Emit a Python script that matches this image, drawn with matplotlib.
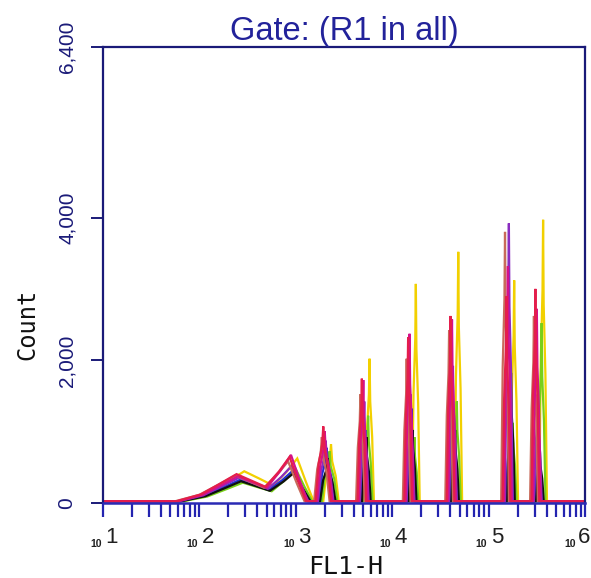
import matplotlib.pyplot as plt
import numpy as np

# bead populations: centre of each peak on the FL1-H axis (log10 units)
peak_log = [2.42, 2.97, 3.32, 3.72, 4.20, 4.64, 5.22, 5.52]

# peak counts of each overlaid sample, one value per bead population
counts_yellow = [420, 600, 800, 2000, 3050, 3500, 3100, 3950]
counts_green = [260, 450, 700, 1200, 900, 1400, 1100, 2500]
counts_blue = [300, 430, 750, 1000, 1300, 1200, 1050, 800]
counts_black = [280, 400, 600, 900, 1000, 1000, 1800, 700]
counts_purple = [330, 500, 850, 1400, 1500, 1900, 3900, 1500]
counts_brown = [360, 560, 900, 1500, 2000, 2400, 3780, 2600]
counts_magenta = [350, 650, 980, 1700, 2350, 2550, 3300, 2700]
counts_red = [380, 620, 1050, 1720, 2300, 2600, 2880, 2980]

# small channel offset of each sample relative to the peak centres
shift_yellow = 0.045
shift_green = 0.03
shift_blue = 0.0
shift_black = 0.012
shift_purple = -0.01
shift_brown = -0.05
shift_magenta = -0.02
shift_red = -0.035

baseline = 25

# outline of the two broad dim peaks
low_knots = [1.0, 1.80, 2.05, 2.25, 2.42, 2.58, 2.72, 2.86, 2.97, 3.06, 3.14]
hump1_shape = [0, 0, 0.25, 0.65, 1.0, 0.75, 0.45, 0.2, 0, 0, 0]
hump2_shape = [0, 0, 0, 0, 0, 0, 0.05, 0.55, 1.0, 0.45, 0.0]

# outline of the narrow bright peaks
spike_offsets = [-1.0, -0.6, -0.15, 0.0, 0.15, 0.6, 1.0]
spike_shape = [0.0, 0.5, 0.75, 1.0, 0.7, 0.45, 0.0]
spike_width = [0.08, 0.045, 0.04, 0.04, 0.04, 0.04]

y_ticks = [0, 2000, 4000, 6400]
y_ticklabels = ["0", "2,000", "4,000", "6,400"]
decades = [1, 2, 3, 4, 5, 6]


def trace(counts, shift):
    xs = [low_knots[0]]
    ys = [baseline]
    for k, f1, f2 in zip(low_knots[1:], hump1_shape[1:], hump2_shape[1:]):
        xs.append(k + shift)
        ys.append(baseline + f1 * counts[0] + f2 * counts[1])
    for c, h, w in zip(peak_log[2:], counts[2:], spike_width):
        for o, f in zip(spike_offsets, spike_shape):
            xs.append(c + shift + o * w)
            ys.append(baseline + f * h)
    xs.append(6.0)
    ys.append(baseline)
    return 10 ** np.array(xs), np.array(ys)


navy = "#1a1a78"
fig = plt.figure(figsize=(5.91, 5.78), dpi=100)
ax = fig.add_axes([0.1743, 0.1298, 0.8156, 0.7889])

samples = [
    (counts_yellow, shift_yellow, "#f2d000"),
    (counts_green, shift_green, "#78d018"),
    (counts_blue, shift_blue, "#2030d0"),
    (counts_black, shift_black, "#101010"),
    (counts_purple, shift_purple, "#8a2cc0"),
    (counts_brown, shift_brown, "#c86a5a"),
    (counts_magenta, shift_magenta, "#d4108c"),
    (counts_red, shift_red, "#e41e4c"),
]
for counts, shift, col in samples:
    x, y = trace(counts, shift)
    ax.plot(x, y, color=col, lw=1.6, solid_joinstyle="miter")

ax.set_xscale("log")
ax.set_xlim(10, 1e6)
ax.set_ylim(0, 6400)

for side in ["left", "right", "top"]:
    ax.spines[side].set_color(navy)
    ax.spines[side].set_linewidth(1.6)
ax.spines["bottom"].set_color("#2a2ab4")
ax.spines["bottom"].set_linewidth(1.8)

ax.set_xticks([10.0 ** d for d in decades])
ax.tick_params(axis="x", which="both", direction="out", length=10, width=1.6,
               color="#2424b0", labelbottom=False)

# "10" written small with a large exponent beside it; the last one is
# pulled left so it stays inside the figure
for d in decades:
    if d == decades[-1]:
        ten_dx, exp_dx, exp_ha = -6.5, 3.5, "right"
    else:
        ten_dx, exp_dx, exp_ha = -1, 1.5, "left"
    ax.annotate("10", xy=(10.0 ** d, 0), xycoords=("data", "axes fraction"),
                xytext=(ten_dx, -31.5), textcoords="offset points",
                ha="right", va="baseline", fontsize=7.5, fontweight="bold",
                family="Liberation Sans", color="#202020",
                annotation_clip=False)
    ax.annotate(str(d), xy=(10.0 ** d, 0), xycoords=("data", "axes fraction"),
                xytext=(exp_dx, -28.5), textcoords="offset points",
                ha=exp_ha, va="baseline", fontsize=16,
                family="Liberation Sans", color="#202020",
                annotation_clip=False)

ax.set_yticks(y_ticks)
ax.set_yticklabels(y_ticklabels, rotation=90, va="center",
                   family="Liberation Sans", fontsize=15, color=navy)
ax.tick_params(axis="y", direction="out", length=9, width=1.4, color=navy,
               pad=10)

ax.set_title("Gate: (R1 in all)", family="Liberation Sans", fontsize=23.5,
             color="#22229a", pad=5)
fig.text(0.047, 0.438, "Count", rotation=90, ha="center", va="center",
         family="DejaVu Sans Mono", fontsize=17, color="#111111")
fig.text(0.585, 0.019, "FL1-H", ha="center", va="center",
         family="DejaVu Sans Mono", fontsize=18, color="#111111")

fig.savefig("out.png", dpi=100)
